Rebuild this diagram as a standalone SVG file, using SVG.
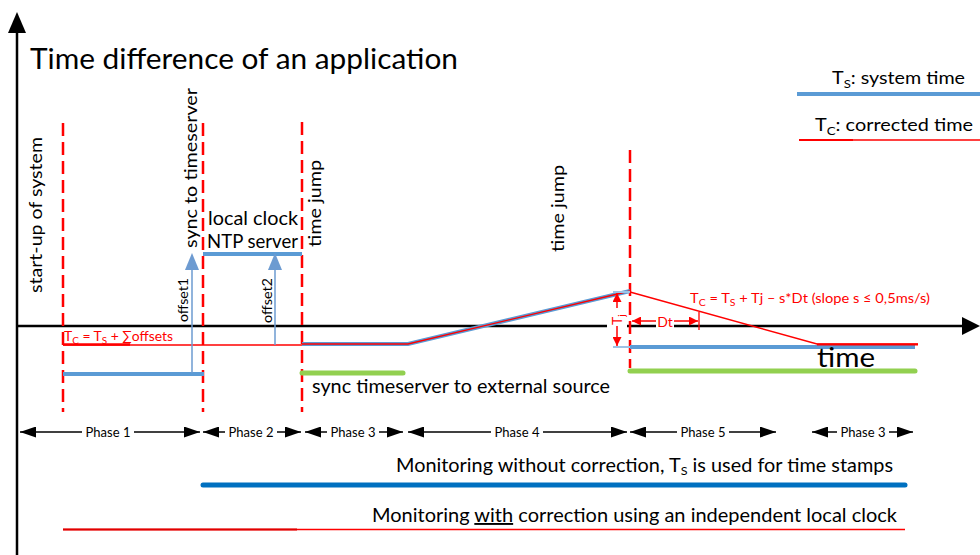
<svg xmlns="http://www.w3.org/2000/svg" width="980" height="555" viewBox="0 0 980 555">
<style>
text{font-family:Lato,"Liberation Sans",sans-serif;fill:#000}
.red{fill:#FF0000}
.dash{stroke:#FF0000;stroke-width:2.5;stroke-dasharray:13 6;fill:none}
.ts{stroke:#5B9BD5;stroke-width:4;fill:none;stroke-linecap:butt}
.green{stroke:#92D050;stroke-width:5;stroke-linecap:round;fill:none}
.rl{stroke:#FF0000;stroke-width:1.4;fill:none}
.off{stroke:#6D9BD1;stroke-width:1.5;fill:none}
.ph{stroke:#000;stroke-width:1.5;marker-start:url(#ah);marker-end:url(#ah)}
.redarr{stroke:#FF0000;stroke-width:1.5;fill:none}
</style>
<defs>
<marker id="ah" markerUnits="userSpaceOnUse" markerWidth="16" markerHeight="11" refX="16" refY="5.5" orient="auto-start-reverse">
<path d="M0,0 L16,5.5 L0,11 z" fill="#000"/>
</marker>
<marker id="rh" markerUnits="userSpaceOnUse" markerWidth="9" markerHeight="9" refX="9" refY="4.5" orient="auto-start-reverse">
<path d="M0,0 L9,4.5 L0,9 z" fill="#FF0000"/>
</marker>
</defs>
<rect width="980" height="555" fill="#fff"/>

<g id="axes">
<line x1="17" y1="555" x2="17" y2="30" stroke="#000" stroke-width="2.5"/>
<polygon points="17,12 8,33 26,33" fill="#000"/>
<line x1="17" y1="326" x2="964" y2="326" stroke="#000" stroke-width="2.5"/>
<polygon points="980,326 962,317 962,335" fill="#000"/>
</g>

<g id="title">
<text x="30" y="69" font-size="29" textLength="428" lengthAdjust="spacingAndGlyphs">Time difference of an application</text>
</g>

<g id="legend">
<text x="832" y="84" font-size="18" textLength="133" lengthAdjust="spacingAndGlyphs">T<tspan font-size="12" dy="4">S</tspan><tspan dy="-4">: system time</tspan></text>
<line x1="797" y1="94" x2="980" y2="94" class="ts"/>
<text x="815" y="131" font-size="18" textLength="158" lengthAdjust="spacingAndGlyphs">T<tspan font-size="12" dy="4">C</tspan><tspan dy="-4">: corrected time</tspan></text>
<line x1="799" y1="140" x2="980" y2="140" class="rl"/>
<line x1="799" y1="140" x2="853" y2="140" stroke="#FF0000" stroke-width="2.2"/>
</g>

<g id="events">
<line x1="63" y1="123" x2="63" y2="412" class="dash"/>
<line x1="203" y1="123" x2="203" y2="412" class="dash"/>
<line x1="302" y1="122" x2="302" y2="412" class="dash"/>
<line x1="630" y1="150" x2="630" y2="368" class="dash"/>
<text transform="translate(42,293) rotate(-90)" font-size="18" textLength="156" lengthAdjust="spacingAndGlyphs">start-up of system</text>
<text transform="translate(197,248) rotate(-90)" font-size="18" textLength="160" lengthAdjust="spacingAndGlyphs">sync to timeserver</text>
<text transform="translate(321,247) rotate(-90)" font-size="18" textLength="87" lengthAdjust="spacingAndGlyphs">time jump</text>
<text transform="translate(564,252) rotate(-90)" font-size="18" textLength="87" lengthAdjust="spacingAndGlyphs">time jump</text>
</g>

<g id="phase1-2">
<line x1="63" y1="345" x2="302" y2="345" class="rl"/>
<line x1="63" y1="344.5" x2="130" y2="344.5" stroke="#FF0000" stroke-width="2.5"/>
<text x="64" y="341" font-size="14" class="red" textLength="109" lengthAdjust="spacingAndGlyphs">T<tspan font-size="10" dy="3">C</tspan><tspan dy="-3"> = T</tspan><tspan font-size="10" dy="3">S</tspan><tspan dy="-3"> + ∑offsets</tspan></text>
<line x1="63" y1="374" x2="204" y2="374" class="ts"/>
<line x1="203" y1="254" x2="302" y2="254" class="ts"/>
<text x="208" y="225" font-size="19" textLength="90" lengthAdjust="spacingAndGlyphs">local clock</text>
<text x="207" y="248" font-size="19" textLength="91" lengthAdjust="spacingAndGlyphs">NTP server</text>
<line x1="192" y1="373" x2="192" y2="268" class="off"/>
<polygon points="192,253 185,270 199,270" fill="#6D9BD1"/>
<line x1="275" y1="345" x2="275" y2="268" class="off"/>
<polygon points="275,253 268,270 282,270" fill="#6D9BD1"/>
<text transform="translate(188,322) rotate(-90)" font-size="13" textLength="44" lengthAdjust="spacingAndGlyphs">offset1</text>
<text transform="translate(272,323) rotate(-90)" font-size="13" textLength="45" lengthAdjust="spacingAndGlyphs">offset2</text>
</g>

<g id="phase3-4">
<polyline points="302,344 408,344 630,291" class="ts"/>
<polyline points="302,344 408,344 630,291" class="rl"/>
<line x1="302" y1="373" x2="403" y2="373" class="green"/>
<text x="312" y="393" font-size="19" textLength="298" lengthAdjust="spacingAndGlyphs">sync timeserver to external source</text>
</g>

<g id="phase5">
<line x1="613" y1="292" x2="630" y2="292" stroke="#9DC3E6" stroke-width="2"/>
<line x1="613" y1="347" x2="630" y2="347" stroke="#9DC3E6" stroke-width="2"/>
<line x1="630" y1="347" x2="915" y2="347" class="ts"/>
<polyline points="630,292 817,344 918,344" class="rl"/>
<line x1="817" y1="344.5" x2="918" y2="344.5" stroke="#FF0000" stroke-width="2"/>
<line x1="630" y1="371" x2="915" y2="371" class="green"/>
<rect x="607" y="305" width="20" height="25" fill="#fff"/>
<line x1="617" y1="293" x2="617" y2="346" class="redarr" marker-start="url(#rh)" marker-end="url(#rh)"/>
<rect x="610" y="308" width="14" height="18" fill="#fff"/>
<text transform="translate(622,325) rotate(-90)" font-size="14" class="red">T<tspan font-size="10" dy="3">j</tspan></text>
<line x1="632" y1="321" x2="698" y2="321" class="redarr" marker-start="url(#rh)" marker-end="url(#rh)"/>
<line x1="699" y1="312" x2="699" y2="330" stroke="#FF0000" stroke-width="1.3"/>
<rect x="656" y="313" width="18" height="16" fill="#fff"/>
<text x="665" y="327" font-size="14" class="red" text-anchor="middle">Dt</text>
<text x="690" y="303" font-size="14" class="red" textLength="240" lengthAdjust="spacingAndGlyphs">T<tspan font-size="10" dy="3">C</tspan><tspan dy="-3"> = T</tspan><tspan font-size="10" dy="3">S</tspan><tspan dy="-3"> + Tj – s*Dt (slope s ≤ 0,5ms/s)</tspan></text>
<text x="817" y="367" font-size="27" textLength="58" lengthAdjust="spacingAndGlyphs">time</text>
</g>

<g id="phases" font-size="13">
<line x1="20" y1="432" x2="200" y2="432" class="ph"/>
<rect x="82" y="424" width="52" height="16" fill="#fff"/>
<text x="108" y="437" text-anchor="middle" font-size="13">Phase 1</text>
<line x1="203" y1="432" x2="301" y2="432" class="ph"/>
<rect x="225" y="424" width="52" height="16" fill="#fff"/>
<text x="251" y="437" text-anchor="middle" font-size="13">Phase 2</text>
<line x1="305" y1="432" x2="403" y2="432" class="ph"/>
<rect x="327" y="424" width="52" height="16" fill="#fff"/>
<text x="353" y="437" text-anchor="middle" font-size="13">Phase 3</text>
<line x1="408" y1="432" x2="627" y2="432" class="ph"/>
<rect x="491" y="424" width="52" height="16" fill="#fff"/>
<text x="517" y="437" text-anchor="middle" font-size="13">Phase 4</text>
<line x1="630" y1="432" x2="776" y2="432" class="ph"/>
<rect x="677" y="424" width="52" height="16" fill="#fff"/>
<text x="703" y="437" text-anchor="middle" font-size="13">Phase 5</text>
<line x1="812" y1="432" x2="913" y2="432" class="ph"/>
<rect x="837" y="424" width="52" height="16" fill="#fff"/>
<text x="863" y="437" text-anchor="middle" font-size="13">Phase 3</text>
</g>

<g id="monitoring">
<text x="396" y="472" font-size="19" textLength="497" lengthAdjust="spacingAndGlyphs">Monitoring without correction, T<tspan font-size="12" dy="3">S</tspan><tspan dy="-3"> is used for time stamps</tspan></text>
<line x1="203" y1="485" x2="905" y2="485" stroke="#0070C0" stroke-width="5" stroke-linecap="round"/>
<text x="372" y="522" font-size="19" textLength="525" lengthAdjust="spacingAndGlyphs">Monitoring <tspan text-decoration="underline">with</tspan> correction using an independent local clock</text>
<line x1="63" y1="529.5" x2="905" y2="529.5" stroke="#FF0000" stroke-width="1.6"/>
<line x1="63" y1="529.5" x2="297" y2="529.5" stroke="#E00000" stroke-width="2.2"/>
</g>
</svg>
